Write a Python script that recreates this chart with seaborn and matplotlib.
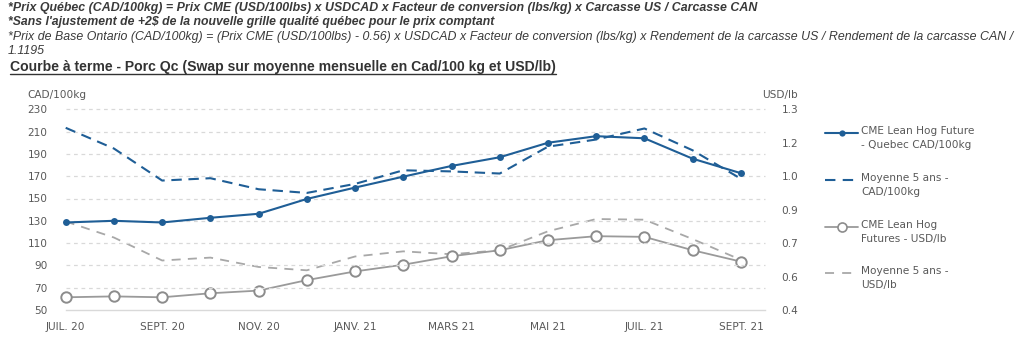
import numpy as np
import pandas as pd
import matplotlib
matplotlib.use("Agg")
import matplotlib.pyplot as plt
import seaborn as sns
from matplotlib.lines import Line2D
from matplotlib import font_manager

# ---------------- data ----------------
months = ["JUIL. 20", "AOÛT 20", "SEPT. 20", "OCT. 20", "NOV. 20", "DÉC. 20",
          "JANV. 21", "FÉVR. 21", "MARS 21", "AVR. 21", "MAI 21", "JUIN 21",
          "JUIL. 21", "AOÛT 21", "SEPT. 21"]
cme_qc_cad = [128.5, 130.0, 128.5, 132.7, 136.3, 149.6, 159.8, 169.6, 179.2,
              187.0, 200.0, 205.9, 204.0, 185.7, 172.7]
avg5_cad = [213.4, 194.8, 166.1, 168.2, 158.3, 155.0, 163.1, 175.3, 174.3,
            172.4, 196.5, 202.9, 212.8, 193.2, 167.7]
cme_usd_lb = [0.457, 0.461, 0.457, 0.475, 0.487, 0.534, 0.573, 0.603, 0.641,
              0.668, 0.713, 0.731, 0.728, 0.668, 0.617]
avg5_usd_lb = [0.797, 0.725, 0.622, 0.635, 0.593, 0.578, 0.640, 0.663, 0.650,
               0.668, 0.753, 0.808, 0.805, 0.718, 0.625]
left_ticks = [50, 70, 90, 110, 130, 150, 170, 190, 210, 230]
right_ticks = [0.4, 0.55, 0.7, 0.85, 1.0, 1.15, 1.3]
right_labels = ["0.4", "0.6", "0.7", "0.9", "1.0", "1.2", "1.3"]
legend_labels = ["CME Lean Hog Future\n- Quebec CAD/100kg",
                 "Moyenne 5 ans -\nCAD/100kg",
                 "CME Lean Hog\nFutures - USD/lb",
                 "Moyenne 5 ans -\nUSD/lb"]
header_lines = [
    "*Prix Québec (CAD/100kg) = Prix CME (USD/100lbs) x USDCAD x Facteur de conversion (lbs/kg) x Carcasse US / Carcasse CAN",
    "*Sans l'ajustement de +2$ de la nouvelle grille qualité québec pour le prix comptant",
    "*Prix de Base Ontario (CAD/100kg) = (Prix CME (USD/100lbs) - 0.56) x USDCAD x Facteur de conversion (lbs/kg) x Rendement de la carcasse US / Rendement de la carcasse CAN /",
    "1.1195",
]
title_text = "Courbe à terme - Porc Qc (Swap sur moyenne mensuelle en Cad/100 kg et USD/lb)"

df = pd.DataFrame({"x": np.arange(len(months)), "cad": cme_qc_cad, "cad5": avg5_cad,
                   "usd": cme_usd_lb, "usd5": avg5_usd_lb})

# ---------------- style ----------------
sns.set_theme(style="white")
plt.rcParams["font.family"] = ["DejaVu Sans"]

available = {f.name for f in font_manager.fontManager.ttflist}
head_family = "Liberation Sans Narrow" if "Liberation Sans Narrow" in available else "Liberation Sans"

BLUE = "#1f5e96"
GRAY = "#9a9a9a"
GRAY_D = "#a8a8a8"
TXT = "#595959"
GRID = "#d9d9d9"

W, H = 1024, 339
fig = plt.figure(figsize=(W / 100, H / 100), dpi=100)
fig.patch.set_facecolor("white")

def fx(px):
    return px / W

def fy(py):
    return 1 - py / H

ax_l, ax_r, ax_t, ax_b = 65.7, 765, 109.3, 310
ax = fig.add_axes([fx(ax_l), fy(ax_b), fx(ax_r - ax_l), (ax_b - ax_t) / H])
ax2 = ax.twinx()

# horizontal grid
for v in left_ticks[1:]:
    ax.axhline(v, color=GRID, lw=0.9, ls=(0, (3, 3)), zorder=0)

# series
sns.lineplot(data=df, x="x", y="cad5", ax=ax, color=BLUE, lw=1.5, zorder=3)
ax.lines[-1].set_dashes([5, 3.2])
sns.lineplot(data=df, x="x", y="cad", ax=ax, color=BLUE, lw=1.5, marker="o",
             markersize=5, markeredgewidth=0, zorder=4)
sns.lineplot(data=df, x="x", y="usd5", ax=ax2, color=GRAY_D, lw=1.3, zorder=3)
ax2.lines[-1].set_dashes([5, 4])
sns.lineplot(data=df, x="x", y="usd", ax=ax2, color=GRAY, lw=1.3, marker="o",
             markersize=7.5, markerfacecolor="white", markeredgecolor="#8c8c8c",
             markeredgewidth=1.4, zorder=4, clip_on=False)
for l in ax.lines + ax2.lines:
    l.set_clip_on(False)

ax.set_xlim(0, 14.5)
ax.set_ylim(50, 230)
ax2.set_ylim(0.4, 1.3)

ax.set_yticks(left_ticks)
ax.set_yticklabels([str(v) for v in left_ticks])
ax2.set_yticks(right_ticks)
ax2.set_yticklabels(right_labels)

ax.set_xticks(np.arange(0, len(months), 2))
ax.set_xticklabels([months[i] for i in range(0, len(months), 2)])
ax.set_xticks(np.arange(len(months)), minor=True)

for a in (ax, ax2):
    for s in a.spines.values():
        s.set_visible(False)
    a.set_xlabel("")
    a.set_ylabel("")
ax.spines["bottom"].set_visible(True)
ax.spines["bottom"].set_color(GRID)
ax.spines["bottom"].set_linewidth(1.0)

ax.tick_params(axis="y", length=0, pad=13, labelsize=7.6, labelcolor=TXT)
ax2.tick_params(axis="y", length=0, pad=12, labelsize=7.6, labelcolor=TXT)
ax.tick_params(axis="x", which="both", length=4, color=GRID, width=1.0,
               direction="out", pad=5, labelsize=7.6, labelcolor=TXT)
ax.tick_params(axis="x", which="minor", length=4)
ax.set_zorder(ax2.get_zorder() + 1)
ax.patch.set_visible(False)

# axis unit labels
fig.text(fx(27), fy(95), "CAD/100kg", fontsize=7.6, color=TXT, va="center", ha="left")
fig.text(fx(762), fy(95), "USD/lb", fontsize=7.6, color=TXT, va="center", ha="left")

# legend (manual)
leg_y = [132.7, 179.5, 226.7, 273.0]
lx0, lx1, tx = 825, 858, 861
styles = [
    dict(color=BLUE, lw=1.5, ls="-", marker="o", ms=4.5, mew=0, mfc=BLUE),
    dict(color=BLUE, lw=1.5, ls=(0, (5, 3.5)), marker=None),
    dict(color=GRAY, lw=1.3, ls="-", marker="o", ms=6.5, mfc="white", mec="#8c8c8c", mew=1.2),
    dict(color=GRAY_D, lw=1.3, ls=(0, (5, 4.5)), marker=None),
]
for y, st, lab in zip(leg_y, styles, legend_labels):
    mk = st.pop("marker")
    ln = Line2D([fx(lx0), fx(lx1)], [fy(y), fy(y)], transform=fig.transFigure, **st)
    fig.add_artist(ln)
    if mk:
        m = Line2D([fx((lx0 + lx1) / 2)], [fy(y)], transform=fig.transFigure,
                   marker=mk, ls="none", ms=st["ms"], mew=st["mew"],
                   mfc=st["mfc"], mec=st.get("mec", st["mfc"]))
        fig.add_artist(m)
    fig.text(fx(tx), fy(y - 6.5), lab, fontsize=7.6, color=TXT, va="top", ha="left",
             linespacing=1.45)

# header texts, fit to measured widths
renderer = fig.canvas.get_renderer()

def fitted_text(x0, yc, s, target_w, weight, style, size0, color):
    t = fig.text(fx(x0), fy(yc), s, fontsize=size0, family=[head_family, "DejaVu Sans"],
                 weight=weight, style=style, color=color, va="center", ha="left")
    w = t.get_window_extent(renderer).width
    t.set_fontsize(size0 * target_w / w)
    return t

HEAD = "#3a3a3a"
fitted_text(8, 8, header_lines[0], 749, "bold", "italic", 9, HEAD)
fitted_text(8, 22, header_lines[1], 489, "bold", "italic", 9, HEAD)
t3 = fitted_text(8, 37, header_lines[2], 1004, "normal", "italic", 9, HEAD)
fig.text(fx(8), fy(51), header_lines[3], fontsize=t3.get_fontsize(),
         family=[head_family, "DejaVu Sans"], style="italic", color=HEAD,
         va="center", ha="left")
tt = fitted_text(10, 67, title_text, 550, "bold", "normal", 10.5, "#333333")
bb = tt.get_window_extent(renderer)
uy = bb.y0 + 0.5
fig.add_artist(Line2D([bb.x0 / W, bb.x1 / W], [uy / H, uy / H], transform=fig.transFigure,
                      color="#333333", lw=1.0))

fig.savefig("out.png", dpi=100, facecolor="white")
